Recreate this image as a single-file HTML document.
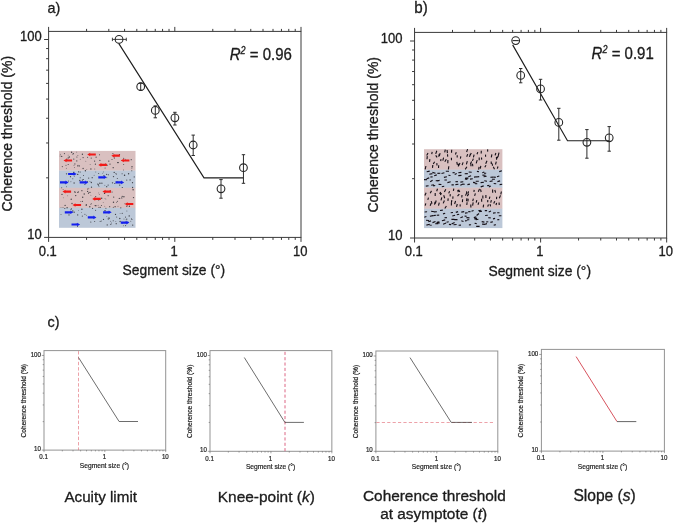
<!DOCTYPE html>
<html><head><meta charset="utf-8"><title>Figure</title>
<style>html,body{margin:0;padding:0;background:#fff}svg{display:block;will-change:transform}text{stroke:#1c1c1c;stroke-width:.32px;stroke-linejoin:round}text.sm{stroke:#222;stroke-width:.2px}</style>
</head><body>
<svg width="675" height="523" viewBox="0 0 675 523" font-family='"Liberation Sans", Arial, Helvetica, sans-serif'>
<rect width="675" height="523" fill="#fff"/>
<text transform="translate(47.60,13.10) scale(0.96,1)" font-size="15" text-anchor="start" fill="#1c1c1c" >a)</text>
<text transform="translate(414.30,13.10) scale(0.97,1)" font-size="15.6" text-anchor="start" fill="#1c1c1c" >b)</text>
<text transform="translate(47.50,327.20) scale(0.96,1)" font-size="15" text-anchor="start" fill="#1c1c1c" >c)</text>
<rect x="59" y="150.9" width="76.5" height="19.90" fill="#d9c0c0"/>
<rect x="59" y="170.6" width="76.5" height="17.40" fill="#bcc8d8"/>
<rect x="59" y="187.8" width="76.5" height="20.30" fill="#d9c0c0"/>
<rect x="59" y="207.9" width="76.5" height="19.90" fill="#bcc8d8"/>
<g fill="#2e2e34" opacity="0.88"><circle cx="77.7" cy="192.6" r="0.52"/><circle cx="105.0" cy="198.6" r="0.42"/><circle cx="61.0" cy="214.5" r="0.48"/><circle cx="77.5" cy="226.3" r="0.55"/><circle cx="122.3" cy="187.5" r="0.60"/><circle cx="71.2" cy="199.3" r="0.68"/><circle cx="99.0" cy="207.3" r="0.61"/><circle cx="64.8" cy="208.5" r="0.59"/><circle cx="82.4" cy="154.2" r="0.68"/><circle cx="95.2" cy="205.6" r="0.68"/><circle cx="113.2" cy="220.7" r="0.53"/><circle cx="119.7" cy="185.1" r="0.70"/><circle cx="125.5" cy="159.2" r="0.44"/><circle cx="76.2" cy="224.0" r="0.54"/><circle cx="106.7" cy="174.4" r="0.56"/><circle cx="88.7" cy="178.1" r="0.59"/><circle cx="103.5" cy="219.4" r="0.62"/><circle cx="129.2" cy="215.9" r="0.72"/><circle cx="110.0" cy="164.1" r="0.68"/><circle cx="131.9" cy="219.5" r="0.58"/><circle cx="113.2" cy="167.7" r="0.67"/><circle cx="102.7" cy="173.2" r="0.42"/><circle cx="123.6" cy="225.8" r="0.43"/><circle cx="119.6" cy="182.6" r="0.45"/><circle cx="81.9" cy="209.3" r="0.68"/><circle cx="63.3" cy="197.8" r="0.41"/><circle cx="113.5" cy="176.6" r="0.68"/><circle cx="133.1" cy="189.7" r="0.72"/><circle cx="83.1" cy="157.6" r="0.59"/><circle cx="62.3" cy="166.6" r="0.53"/><circle cx="105.5" cy="163.6" r="0.41"/><circle cx="124.6" cy="175.3" r="0.71"/><circle cx="126.8" cy="180.1" r="0.55"/><circle cx="98.7" cy="200.0" r="0.59"/><circle cx="101.7" cy="198.2" r="0.70"/><circle cx="97.8" cy="184.1" r="0.63"/><circle cx="77.7" cy="174.4" r="0.71"/><circle cx="98.8" cy="192.9" r="0.40"/><circle cx="90.9" cy="195.2" r="0.41"/><circle cx="105.9" cy="199.1" r="0.42"/><circle cx="106.7" cy="186.7" r="0.62"/><circle cx="86.3" cy="204.7" r="0.64"/><circle cx="61.7" cy="156.4" r="0.62"/><circle cx="131.8" cy="170.7" r="0.55"/><circle cx="104.2" cy="175.8" r="0.52"/><circle cx="83.3" cy="179.5" r="0.59"/><circle cx="82.4" cy="180.1" r="0.65"/><circle cx="62.0" cy="194.4" r="0.64"/><circle cx="83.1" cy="168.5" r="0.66"/><circle cx="77.8" cy="165.9" r="0.54"/><circle cx="112.0" cy="159.5" r="0.50"/><circle cx="84.9" cy="214.2" r="0.54"/><circle cx="123.7" cy="164.5" r="0.51"/><circle cx="108.4" cy="218.0" r="0.54"/><circle cx="76.8" cy="160.9" r="0.57"/><circle cx="74.2" cy="212.2" r="0.67"/><circle cx="73.7" cy="172.7" r="0.66"/><circle cx="107.8" cy="212.1" r="0.51"/><circle cx="69.7" cy="173.7" r="0.65"/><circle cx="80.2" cy="177.8" r="0.53"/><circle cx="91.3" cy="182.5" r="0.69"/><circle cx="71.6" cy="152.2" r="0.70"/><circle cx="125.6" cy="225.6" r="0.54"/><circle cx="130.8" cy="221.2" r="0.47"/><circle cx="115.5" cy="214.4" r="0.61"/><circle cx="98.7" cy="173.5" r="0.51"/><circle cx="76.9" cy="157.0" r="0.59"/><circle cx="81.4" cy="212.4" r="0.41"/><circle cx="127.3" cy="203.7" r="0.70"/><circle cx="126.8" cy="219.1" r="0.58"/><circle cx="61.0" cy="207.6" r="0.45"/><circle cx="82.3" cy="201.4" r="0.57"/><circle cx="90.8" cy="222.0" r="0.60"/><circle cx="85.4" cy="170.8" r="0.68"/><circle cx="95.6" cy="210.3" r="0.51"/><circle cx="74.7" cy="191.8" r="0.66"/><circle cx="72.8" cy="211.0" r="0.69"/><circle cx="120.1" cy="213.4" r="0.40"/><circle cx="106.8" cy="216.3" r="0.42"/><circle cx="80.2" cy="172.0" r="0.57"/><circle cx="91.5" cy="187.2" r="0.65"/><circle cx="60.1" cy="156.0" r="0.44"/><circle cx="69.3" cy="157.0" r="0.71"/><circle cx="123.7" cy="158.3" r="0.56"/><circle cx="83.5" cy="175.4" r="0.51"/><circle cx="108.2" cy="195.7" r="0.52"/><circle cx="74.2" cy="176.5" r="0.44"/><circle cx="101.4" cy="205.4" r="0.52"/><circle cx="66.0" cy="165.2" r="0.52"/><circle cx="105.0" cy="210.4" r="0.52"/><circle cx="119.7" cy="198.4" r="0.54"/><circle cx="87.7" cy="189.0" r="0.62"/><circle cx="91.3" cy="203.8" r="0.55"/><circle cx="78.3" cy="191.9" r="0.62"/><circle cx="65.3" cy="183.6" r="0.54"/><circle cx="125.5" cy="221.9" r="0.52"/><circle cx="126.9" cy="211.0" r="0.48"/><circle cx="94.6" cy="161.1" r="0.66"/><circle cx="109.3" cy="218.2" r="0.65"/><circle cx="109.7" cy="206.7" r="0.58"/><circle cx="67.7" cy="195.8" r="0.40"/><circle cx="70.7" cy="209.7" r="0.41"/><circle cx="66.8" cy="159.3" r="0.68"/><circle cx="73.3" cy="153.7" r="0.67"/><circle cx="69.0" cy="214.9" r="0.62"/><circle cx="122.3" cy="223.0" r="0.59"/><circle cx="119.5" cy="154.6" r="0.65"/><circle cx="98.1" cy="205.3" r="0.43"/><circle cx="115.8" cy="221.7" r="0.42"/><circle cx="84.2" cy="194.0" r="0.66"/><circle cx="78.0" cy="165.3" r="0.48"/><circle cx="105.9" cy="208.2" r="0.53"/><circle cx="87.4" cy="181.5" r="0.51"/><circle cx="91.2" cy="158.1" r="0.56"/><circle cx="132.5" cy="182.7" r="0.64"/><circle cx="72.0" cy="203.5" r="0.64"/><circle cx="110.2" cy="190.5" r="0.55"/><circle cx="107.9" cy="218.9" r="0.45"/><circle cx="67.1" cy="207.8" r="0.69"/><circle cx="98.5" cy="185.0" r="0.63"/><circle cx="73.9" cy="171.9" r="0.46"/><circle cx="103.6" cy="175.4" r="0.47"/><circle cx="111.5" cy="223.1" r="0.49"/><circle cx="112.5" cy="182.8" r="0.67"/><circle cx="103.6" cy="171.9" r="0.47"/><circle cx="61.7" cy="187.7" r="0.52"/><circle cx="72.8" cy="178.8" r="0.50"/><circle cx="117.7" cy="162.6" r="0.72"/><circle cx="95.7" cy="196.6" r="0.55"/><circle cx="122.2" cy="213.3" r="0.58"/><circle cx="95.9" cy="205.7" r="0.67"/><circle cx="89.8" cy="206.7" r="0.71"/><circle cx="94.8" cy="169.1" r="0.48"/><circle cx="113.5" cy="202.3" r="0.71"/><circle cx="123.6" cy="170.0" r="0.46"/><circle cx="79.3" cy="165.9" r="0.63"/><circle cx="124.0" cy="219.1" r="0.48"/><circle cx="124.4" cy="175.3" r="0.54"/><circle cx="114.3" cy="158.3" r="0.43"/><circle cx="122.1" cy="173.7" r="0.51"/><circle cx="103.2" cy="202.4" r="0.40"/><circle cx="84.9" cy="184.5" r="0.56"/><circle cx="75.7" cy="195.6" r="0.71"/><circle cx="89.1" cy="192.6" r="0.44"/><circle cx="80.5" cy="201.6" r="0.44"/><circle cx="126.1" cy="219.8" r="0.43"/><circle cx="130.1" cy="179.9" r="0.65"/><circle cx="116.4" cy="174.0" r="0.62"/><circle cx="108.7" cy="212.1" r="0.48"/><circle cx="116.2" cy="223.7" r="0.62"/><circle cx="99.9" cy="160.4" r="0.56"/><circle cx="86.2" cy="205.5" r="0.62"/><circle cx="102.2" cy="165.5" r="0.61"/><circle cx="107.0" cy="165.3" r="0.68"/><circle cx="108.8" cy="161.1" r="0.70"/><circle cx="70.5" cy="176.7" r="0.63"/><circle cx="104.5" cy="193.4" r="0.61"/><circle cx="94.1" cy="175.2" r="0.46"/><circle cx="65.1" cy="205.4" r="0.64"/><circle cx="100.5" cy="207.2" r="0.51"/><circle cx="79.8" cy="180.5" r="0.68"/><circle cx="63.1" cy="189.6" r="0.48"/><circle cx="117.3" cy="178.4" r="0.51"/><circle cx="90.0" cy="192.3" r="0.65"/><circle cx="86.3" cy="215.2" r="0.44"/><circle cx="80.2" cy="159.3" r="0.44"/><circle cx="118.0" cy="206.2" r="0.46"/><circle cx="74.1" cy="183.0" r="0.64"/><circle cx="120.8" cy="207.8" r="0.59"/><circle cx="70.9" cy="181.7" r="0.46"/><circle cx="99.3" cy="194.4" r="0.46"/><circle cx="78.6" cy="210.3" r="0.41"/><circle cx="119.8" cy="218.5" r="0.70"/><circle cx="88.5" cy="193.2" r="0.59"/><circle cx="107.2" cy="224.9" r="0.62"/><circle cx="82.3" cy="216.1" r="0.55"/><circle cx="104.8" cy="206.2" r="0.40"/><circle cx="117.4" cy="201.3" r="0.56"/><circle cx="99.0" cy="186.3" r="0.46"/><circle cx="99.5" cy="154.7" r="0.56"/><circle cx="108.1" cy="185.1" r="0.58"/><circle cx="131.4" cy="218.5" r="0.44"/><circle cx="119.0" cy="198.5" r="0.42"/><circle cx="86.8" cy="169.3" r="0.42"/><circle cx="100.1" cy="221.4" r="0.50"/><circle cx="124.9" cy="203.8" r="0.44"/><circle cx="123.9" cy="196.8" r="0.70"/><circle cx="113.3" cy="207.2" r="0.51"/><circle cx="120.1" cy="221.5" r="0.68"/><circle cx="92.6" cy="208.4" r="0.56"/><circle cx="68.1" cy="155.1" r="0.42"/><circle cx="74.9" cy="163.9" r="0.56"/><circle cx="112.1" cy="192.0" r="0.54"/><circle cx="108.4" cy="174.7" r="0.55"/><circle cx="116.4" cy="181.9" r="0.46"/><circle cx="127.0" cy="205.7" r="0.52"/><circle cx="87.6" cy="191.4" r="0.59"/><circle cx="76.7" cy="152.1" r="0.47"/><circle cx="118.3" cy="162.6" r="0.55"/><circle cx="74.5" cy="167.5" r="0.45"/><circle cx="90.1" cy="164.5" r="0.41"/><circle cx="68.2" cy="164.5" r="0.56"/><circle cx="64.4" cy="153.6" r="0.54"/><circle cx="90.4" cy="204.4" r="0.42"/><circle cx="90.0" cy="181.5" r="0.41"/><circle cx="131.9" cy="168.3" r="0.43"/><circle cx="95.4" cy="164.2" r="0.60"/><circle cx="85.8" cy="161.2" r="0.42"/><circle cx="114.2" cy="172.4" r="0.65"/><circle cx="94.7" cy="221.6" r="0.50"/><circle cx="78.6" cy="171.8" r="0.66"/><circle cx="106.9" cy="177.7" r="0.43"/><circle cx="110.8" cy="224.3" r="0.59"/><circle cx="60.3" cy="154.2" r="0.43"/><circle cx="72.7" cy="154.6" r="0.42"/><circle cx="108.7" cy="219.2" r="0.46"/><circle cx="132.6" cy="187.5" r="0.66"/><circle cx="128.3" cy="222.1" r="0.41"/><circle cx="82.7" cy="197.2" r="0.70"/><circle cx="66.5" cy="173.8" r="0.67"/><circle cx="68.5" cy="181.0" r="0.51"/><circle cx="110.7" cy="221.3" r="0.46"/><circle cx="115.1" cy="206.7" r="0.67"/><circle cx="101.2" cy="220.9" r="0.52"/><circle cx="90.9" cy="169.0" r="0.65"/><circle cx="95.8" cy="172.0" r="0.45"/><circle cx="113.7" cy="197.1" r="0.63"/><circle cx="88.8" cy="188.3" r="0.45"/><circle cx="112.9" cy="153.6" r="0.55"/><circle cx="116.5" cy="202.5" r="0.43"/><circle cx="77.7" cy="214.9" r="0.61"/><circle cx="125.5" cy="217.1" r="0.54"/><circle cx="126.8" cy="206.6" r="0.51"/><circle cx="87.6" cy="157.3" r="0.53"/><circle cx="131.2" cy="159.7" r="0.58"/><circle cx="68.2" cy="157.9" r="0.61"/><circle cx="77.9" cy="155.5" r="0.45"/><circle cx="108.0" cy="195.6" r="0.40"/><circle cx="77.1" cy="224.2" r="0.47"/><circle cx="101.9" cy="183.2" r="0.65"/><circle cx="105.0" cy="210.8" r="0.57"/><circle cx="74.0" cy="165.2" r="0.43"/><circle cx="121.5" cy="160.3" r="0.41"/><circle cx="132.0" cy="166.8" r="0.69"/><circle cx="66.4" cy="186.7" r="0.47"/><circle cx="121.8" cy="197.9" r="0.61"/><circle cx="116.7" cy="217.0" r="0.51"/><circle cx="104.9" cy="185.2" r="0.44"/><circle cx="122.2" cy="196.3" r="0.66"/><circle cx="75.3" cy="192.2" r="0.55"/><circle cx="114.2" cy="157.7" r="0.51"/><circle cx="96.1" cy="157.2" r="0.58"/><circle cx="114.8" cy="183.5" r="0.61"/><circle cx="105.1" cy="167.9" r="0.51"/><circle cx="134.2" cy="176.9" r="0.54"/><circle cx="66.3" cy="168.2" r="0.45"/><circle cx="129.4" cy="206.2" r="0.68"/><circle cx="133.5" cy="197.6" r="0.70"/><circle cx="99.9" cy="183.2" r="0.70"/><circle cx="127.3" cy="222.8" r="0.55"/><circle cx="117.6" cy="182.3" r="0.72"/><circle cx="128.6" cy="173.7" r="0.70"/><circle cx="73.8" cy="159.1" r="0.63"/><circle cx="81.9" cy="190.7" r="0.60"/><circle cx="63.0" cy="207.6" r="0.49"/><circle cx="92.2" cy="177.7" r="0.64"/><circle cx="115.6" cy="173.4" r="0.43"/><circle cx="82.3" cy="182.6" r="0.42"/><circle cx="71.4" cy="208.9" r="0.62"/><circle cx="132.7" cy="225.1" r="0.68"/></g>
<path d="M72.1 159.4h-5.6v-0.7l-3 1.8 3 1.8v-0.7h5.6z" fill="#f21a18"/>
<path d="M95.8 153.4h-5.6v-0.7l-3 1.8 3 1.8v-0.7h5.6z" fill="#f21a18"/>
<path d="M106.9 163.8h-5.6v-0.7l-3 1.8 3 1.8v-0.7h5.6z" fill="#f21a18"/>
<path d="M119.9 154.6h-5.6v-0.7l-3 1.8 3 1.8v-0.7h5.6z" fill="#f21a18"/>
<path d="M129.4 159.4h-5.6v-0.7l-3 1.8 3 1.8v-0.7h5.6z" fill="#f21a18"/>
<path d="M71.1 190.5h-5.6v-0.7l-3 1.8 3 1.8v-0.7h5.6z" fill="#f21a18"/>
<path d="M111.1 190.5h-5.6v-0.7l-3 1.8 3 1.8v-0.7h5.6z" fill="#f21a18"/>
<path d="M100.8 197.8h-5.6v-0.7l-3 1.8 3 1.8v-0.7h5.6z" fill="#f21a18"/>
<path d="M81.1 203.9h-5.6v-0.7l-3 1.8 3 1.8v-0.7h5.6z" fill="#f21a18"/>
<path d="M133.3 202.9h-5.6v-0.7l-3 1.8 3 1.8v-0.7h5.6z" fill="#f21a18"/>
<path d="M68.1 172.9h5.6v-0.7l3 1.8 -3 1.8v-0.7h-5.6z" fill="#1420ee"/>
<path d="M60.0 181.3h5.6v-0.7l3 1.8 -3 1.8v-0.7h-5.6z" fill="#1420ee"/>
<path d="M79.7 181.3h5.6v-0.7l3 1.8 -3 1.8v-0.7h-5.6z" fill="#1420ee"/>
<path d="M98.3 176.2h5.6v-0.7l3 1.8 -3 1.8v-0.7h-5.6z" fill="#1420ee"/>
<path d="M115.5 181.3h5.6v-0.7l3 1.8 -3 1.8v-0.7h-5.6z" fill="#1420ee"/>
<path d="M64.8 211.2h5.6v-0.7l3 1.8 -3 1.8v-0.7h-5.6z" fill="#1420ee"/>
<path d="M103.1 211.2h5.6v-0.7l3 1.8 -3 1.8v-0.7h-5.6z" fill="#1420ee"/>
<path d="M87.8 216.3h5.6v-0.7l3 1.8 -3 1.8v-0.7h-5.6z" fill="#1420ee"/>
<path d="M71.5 223.4h5.6v-0.7l3 1.8 -3 1.8v-0.7h-5.6z" fill="#1420ee"/>
<path d="M120.8 221.5h5.6v-0.7l3 1.8 -3 1.8v-0.7h-5.6z" fill="#1420ee"/>
<rect x="424" y="149.2" width="78.39999999999998" height="20.70" fill="#d9c0c0"/>
<rect x="424" y="169.7" width="78.39999999999998" height="18.20" fill="#bcc8d8"/>
<rect x="424" y="187.7" width="78.39999999999998" height="21.20" fill="#d9c0c0"/>
<rect x="424" y="208.7" width="78.39999999999998" height="19.40" fill="#bcc8d8"/>
<path d="M426.7 155.6L428.0 153.0M427.0 159.2L427.3 156.1M425.2 169.3L425.9 166.0M431.7 154.1L432.2 151.9M429.5 161.8L429.9 159.1M432.5 167.9L432.8 165.0M435.7 153.9L436.8 150.7M437.1 157.4L435.7 155.4M433.3 164.0L434.6 161.7M437.0 165.5L436.8 163.1M439.4 155.9L440.1 153.1M438.8 156.7L439.1 154.2M440.7 161.2L441.0 159.1M438.5 168.0L438.7 165.3M444.7 152.3L445.3 149.7M442.8 160.6L443.6 157.6M444.8 161.8L446.3 159.3M447.4 153.1L447.1 150.0M447.7 156.6L447.5 154.2M447.8 163.2L447.9 159.9M448.4 169.5L448.8 166.3M451.5 152.7L451.7 149.7M451.5 160.3L451.4 157.7M455.4 154.5L456.3 152.2M457.2 157.4L457.2 155.2M457.3 164.7L456.8 161.8M458.4 166.5L458.4 163.8M460.4 158.6L460.8 156.3M462.1 165.1L463.1 162.4M458.6 165.8L460.0 162.9M466.6 152.0L467.6 149.1M466.7 156.7L467.7 154.1M466.4 164.3L467.3 161.2M465.2 169.4L466.9 166.7M470.1 155.2L471.3 152.9M469.5 156.8L470.4 154.0M470.4 164.0L471.6 161.4M471.0 166.2L470.8 163.1M473.4 157.4L474.1 154.6M472.4 160.9L473.4 158.6M472.8 166.3L472.5 163.7M477.0 154.3L477.8 152.1M479.2 160.3L479.2 157.4M476.2 163.3L477.2 160.2M478.6 169.6L479.1 166.9M481.2 153.6L481.3 150.7M481.7 159.6L481.5 157.5M480.3 168.6L480.8 165.9M487.6 151.6L487.7 149.4M485.6 156.7L485.5 154.6M485.7 163.8L487.0 160.8M484.8 167.3L486.0 165.3M491.3 157.3L491.9 154.3M491.3 164.1L491.2 161.5M492.5 165.8L492.2 163.5M495.1 155.4L495.9 153.0M496.6 159.8L496.4 156.9M495.5 164.5L496.3 161.7M494.5 169.3L493.3 166.8M498.2 155.8L499.0 152.7M497.0 158.1L498.4 155.7M497.3 168.7L498.0 166.5M426.7 171.8L429.7 171.1M426.5 178.7L429.2 177.9M424.0 179.6L427.1 179.8M425.8 186.1L428.6 185.8M429.3 174.3L432.5 173.6M430.3 177.0L432.6 176.9M430.2 181.8L432.6 180.3M431.2 185.2L433.9 184.7M432.4 172.4L435.5 173.3M434.2 175.8L436.8 174.9M435.7 180.7L438.6 180.5M433.2 185.9L435.2 185.5M437.4 173.4L440.3 173.3M437.2 181.0L439.6 180.4M438.6 184.4L441.4 184.5M441.5 173.5L444.4 172.8M443.9 177.4L446.9 176.8M444.4 180.0L446.9 180.0M441.8 186.7L444.2 186.3M445.8 171.3L449.0 171.2M448.4 175.2L450.5 175.5M447.4 182.6L450.7 181.8M452.5 172.8L454.7 172.6M451.5 184.9L453.8 184.9M454.7 174.5L456.7 173.4M455.4 181.8L457.9 181.6M455.4 184.6L458.4 184.3M458.3 172.7L461.4 172.4M458.3 175.6L461.5 175.4M460.4 182.1L463.3 181.8M460.3 185.2L462.6 184.2M464.7 173.8L467.8 173.6M465.3 178.1L468.4 178.1M464.9 178.9L467.4 179.4M462.3 184.1L464.7 184.2M468.7 172.0L471.7 172.2M468.3 176.8L471.1 175.8M470.0 179.1L472.8 178.8M467.4 184.6L469.9 184.1M474.0 177.1L476.7 176.7M473.0 182.4L475.2 182.6M473.2 182.8L476.4 183.3M476.9 171.4L479.0 171.7M476.3 177.0L479.2 176.6M475.7 181.2L478.8 181.3M475.1 183.8L477.3 183.7M482.3 172.7L484.3 171.9M482.4 175.1L485.6 175.3M480.6 182.6L483.9 182.2M480.7 186.9L483.7 185.9M484.0 173.1L486.2 173.2M483.6 176.7L486.6 176.3M484.3 180.8L487.0 181.2M487.1 185.8L489.4 185.2M490.4 177.2L493.4 177.1M489.6 181.5L492.6 180.9M488.8 186.9L490.8 186.0M493.6 177.1L495.9 177.2M491.9 179.2L494.9 179.2M493.7 183.5L496.2 183.8M499.2 171.6L501.9 170.7M497.0 176.8L499.3 176.0M497.4 181.6L500.1 180.9M499.6 184.6L502.2 184.3M424.9 195.4L426.1 192.7M427.8 199.9L428.5 197.6M425.2 205.7L425.8 203.3M430.2 193.2L431.5 190.9M432.0 203.6L431.2 201.1M430.2 205.8L431.1 203.3M436.7 191.2L437.5 188.8M435.2 195.9L435.2 193.1M435.3 203.5L436.2 200.5M434.5 204.6L435.1 201.9M439.7 194.1L440.6 192.1M440.4 195.0L441.5 193.1M441.0 200.3L441.8 197.3M438.5 205.6L439.3 202.6M444.4 191.9L445.8 189.3M444.7 198.2L443.7 195.3M443.2 203.4L444.4 200.5M444.8 208.5L446.4 206.0M448.7 193.4L449.6 191.3M450.1 196.4L450.3 194.1M447.9 200.9L448.2 198.4M453.4 190.8L453.8 188.6M452.8 198.7L453.0 196.4M451.4 202.9L451.8 200.1M451.4 205.6L451.4 203.1M458.2 192.2L457.8 189.8M457.5 196.2L459.3 194.1M454.6 204.0L455.6 201.0M456.5 206.8L457.3 204.0M459.8 192.1L458.6 189.8M461.8 197.5L462.0 195.0M462.4 202.1L462.6 199.2M460.2 206.5L460.1 204.4M466.8 193.5L466.5 191.4M465.5 195.6L466.8 192.6M466.5 201.3L466.9 198.2M466.8 205.0L467.1 202.2M467.9 193.7L468.6 191.3M467.3 196.1L468.6 193.9M467.9 201.5L468.2 198.8M470.9 207.5L470.8 204.5M473.9 191.9L474.2 189.9M474.6 195.8L475.4 193.3M472.7 201.1L473.4 198.6M472.6 205.7L473.2 202.4M478.3 191.8L479.5 188.9M476.2 202.6L476.8 200.1M478.0 204.7L478.8 202.4M481.2 192.0L480.5 189.4M482.9 198.5L482.8 195.4M481.7 201.7L481.6 198.7M483.2 207.4L483.6 204.6M485.9 197.9L485.9 195.1M487.7 202.2L487.8 199.9M487.7 206.6L488.5 204.5M492.7 192.7L492.6 189.6M489.3 198.8L489.9 196.7M490.7 202.6L491.4 200.2M490.6 206.3L490.0 204.1M495.6 192.7L494.8 190.0M496.5 199.1L496.7 196.8M493.7 203.4L494.8 201.2M496.0 205.0L496.6 202.9M500.8 194.4L501.4 191.5M499.3 198.3L500.5 195.4M499.2 205.1L499.1 202.5M424.6 212.0L427.1 211.8M424.3 217.2L426.4 216.4M426.0 220.2L429.0 220.5M426.4 225.1L429.7 224.3M431.1 211.3L434.4 211.7M429.9 216.2L433.1 215.6M428.3 221.8L431.0 220.9M429.5 225.0L431.7 225.2M433.9 211.9L436.9 211.8M433.3 215.6L435.9 215.2M432.5 222.6L435.5 221.5M435.2 223.8L438.3 223.6M440.0 210.5L442.8 210.1M436.7 215.2L439.2 215.1M436.9 222.2L439.4 221.8M436.5 222.8L439.8 223.0M443.0 213.9L445.2 213.2M444.5 217.8L446.9 217.6M441.9 220.8L445.2 219.9M443.1 224.2L446.1 222.9M446.5 222.3L448.7 221.7M448.9 224.4L451.1 224.6M450.7 212.8L453.0 212.5M452.3 216.0L455.1 215.3M451.4 219.4L454.4 219.4M451.6 223.9L454.6 222.4M455.8 212.4L458.1 211.6M456.8 214.8L459.2 214.3M454.2 219.6L457.5 219.6M453.5 224.7L456.6 224.5M461.3 212.1L464.2 211.6M460.4 217.7L463.0 216.8M461.3 220.8L463.5 221.5M458.6 225.2L461.0 225.1M465.0 213.1L467.7 212.8M464.6 216.1L466.7 216.2M465.0 220.9L467.3 220.5M468.1 211.7L470.5 211.6M466.4 217.6L469.5 217.9M467.1 219.7L469.3 219.7M468.9 224.9L471.1 224.8M471.5 211.3L473.6 210.5M473.8 217.6L476.3 216.9M474.3 218.9L477.0 218.4M474.6 223.2L476.7 223.6M478.3 210.7L480.8 210.2M476.6 215.5L479.0 213.5M475.7 219.8L478.4 219.2M476.2 226.4L479.6 226.4M479.1 211.8L482.0 211.1M481.7 221.6L484.4 222.1M482.1 224.1L485.2 224.4M484.8 210.6L487.1 210.6M485.1 215.5L487.8 215.3M486.1 222.0L488.3 221.7M485.0 224.2L487.0 223.6M488.7 211.9L491.0 211.0M488.2 217.8L490.7 217.9M490.4 222.4L492.9 221.7M493.0 213.1L495.7 212.7M493.0 218.9L495.1 218.4M493.7 225.3L495.8 224.6M497.2 212.8L499.5 212.7M498.8 215.8L501.4 215.8M497.2 219.7L499.3 219.6" stroke="#150f17" stroke-width="1.12" stroke-linecap="butt" fill="none"/>
<rect x="48.60" y="31.40" width="252.40" height="206.00" fill="none" stroke="#3a3a3a" stroke-width="1"/>
<line x1="48.60" y1="31.40" x2="48.60" y2="26.90" stroke="#3a3a3a" stroke-width="1" />
<line x1="48.60" y1="237.40" x2="48.60" y2="241.90" stroke="#3a3a3a" stroke-width="1" />
<line x1="86.59" y1="31.40" x2="86.59" y2="28.90" stroke="#3a3a3a" stroke-width="1" />
<line x1="86.59" y1="237.40" x2="86.59" y2="239.90" stroke="#3a3a3a" stroke-width="1" />
<line x1="108.81" y1="31.40" x2="108.81" y2="28.90" stroke="#3a3a3a" stroke-width="1" />
<line x1="108.81" y1="237.40" x2="108.81" y2="239.90" stroke="#3a3a3a" stroke-width="1" />
<line x1="124.58" y1="31.40" x2="124.58" y2="28.90" stroke="#3a3a3a" stroke-width="1" />
<line x1="124.58" y1="237.40" x2="124.58" y2="239.90" stroke="#3a3a3a" stroke-width="1" />
<line x1="136.81" y1="31.40" x2="136.81" y2="28.90" stroke="#3a3a3a" stroke-width="1" />
<line x1="136.81" y1="237.40" x2="136.81" y2="239.90" stroke="#3a3a3a" stroke-width="1" />
<line x1="146.80" y1="31.40" x2="146.80" y2="28.90" stroke="#3a3a3a" stroke-width="1" />
<line x1="146.80" y1="237.40" x2="146.80" y2="239.90" stroke="#3a3a3a" stroke-width="1" />
<line x1="155.25" y1="31.40" x2="155.25" y2="28.90" stroke="#3a3a3a" stroke-width="1" />
<line x1="155.25" y1="237.40" x2="155.25" y2="239.90" stroke="#3a3a3a" stroke-width="1" />
<line x1="162.57" y1="31.40" x2="162.57" y2="28.90" stroke="#3a3a3a" stroke-width="1" />
<line x1="162.57" y1="237.40" x2="162.57" y2="239.90" stroke="#3a3a3a" stroke-width="1" />
<line x1="169.03" y1="31.40" x2="169.03" y2="28.90" stroke="#3a3a3a" stroke-width="1" />
<line x1="169.03" y1="237.40" x2="169.03" y2="239.90" stroke="#3a3a3a" stroke-width="1" />
<line x1="174.80" y1="31.40" x2="174.80" y2="26.90" stroke="#3a3a3a" stroke-width="1" />
<line x1="174.80" y1="237.40" x2="174.80" y2="241.90" stroke="#3a3a3a" stroke-width="1" />
<line x1="212.79" y1="31.40" x2="212.79" y2="28.90" stroke="#3a3a3a" stroke-width="1" />
<line x1="212.79" y1="237.40" x2="212.79" y2="239.90" stroke="#3a3a3a" stroke-width="1" />
<line x1="235.01" y1="31.40" x2="235.01" y2="28.90" stroke="#3a3a3a" stroke-width="1" />
<line x1="235.01" y1="237.40" x2="235.01" y2="239.90" stroke="#3a3a3a" stroke-width="1" />
<line x1="250.78" y1="31.40" x2="250.78" y2="28.90" stroke="#3a3a3a" stroke-width="1" />
<line x1="250.78" y1="237.40" x2="250.78" y2="239.90" stroke="#3a3a3a" stroke-width="1" />
<line x1="263.01" y1="31.40" x2="263.01" y2="28.90" stroke="#3a3a3a" stroke-width="1" />
<line x1="263.01" y1="237.40" x2="263.01" y2="239.90" stroke="#3a3a3a" stroke-width="1" />
<line x1="273.00" y1="31.40" x2="273.00" y2="28.90" stroke="#3a3a3a" stroke-width="1" />
<line x1="273.00" y1="237.40" x2="273.00" y2="239.90" stroke="#3a3a3a" stroke-width="1" />
<line x1="281.45" y1="31.40" x2="281.45" y2="28.90" stroke="#3a3a3a" stroke-width="1" />
<line x1="281.45" y1="237.40" x2="281.45" y2="239.90" stroke="#3a3a3a" stroke-width="1" />
<line x1="288.77" y1="31.40" x2="288.77" y2="28.90" stroke="#3a3a3a" stroke-width="1" />
<line x1="288.77" y1="237.40" x2="288.77" y2="239.90" stroke="#3a3a3a" stroke-width="1" />
<line x1="295.23" y1="31.40" x2="295.23" y2="28.90" stroke="#3a3a3a" stroke-width="1" />
<line x1="295.23" y1="237.40" x2="295.23" y2="239.90" stroke="#3a3a3a" stroke-width="1" />
<line x1="301.00" y1="31.40" x2="301.00" y2="26.90" stroke="#3a3a3a" stroke-width="1" />
<line x1="301.00" y1="237.40" x2="301.00" y2="241.90" stroke="#3a3a3a" stroke-width="1" />
<line x1="48.60" y1="237.40" x2="44.10" y2="237.40" stroke="#3a3a3a" stroke-width="1" />
<line x1="48.60" y1="177.83" x2="46.10" y2="177.83" stroke="#3a3a3a" stroke-width="1" />
<line x1="48.60" y1="142.98" x2="46.10" y2="142.98" stroke="#3a3a3a" stroke-width="1" />
<line x1="48.60" y1="118.25" x2="46.10" y2="118.25" stroke="#3a3a3a" stroke-width="1" />
<line x1="48.60" y1="99.07" x2="46.10" y2="99.07" stroke="#3a3a3a" stroke-width="1" />
<line x1="48.60" y1="83.40" x2="46.10" y2="83.40" stroke="#3a3a3a" stroke-width="1" />
<line x1="48.60" y1="70.16" x2="46.10" y2="70.16" stroke="#3a3a3a" stroke-width="1" />
<line x1="48.60" y1="58.68" x2="46.10" y2="58.68" stroke="#3a3a3a" stroke-width="1" />
<line x1="48.60" y1="48.56" x2="46.10" y2="48.56" stroke="#3a3a3a" stroke-width="1" />
<line x1="48.60" y1="39.50" x2="44.10" y2="39.50" stroke="#3a3a3a" stroke-width="1" />
<text transform="translate(41.80,41.40) scale(0.93,1)" font-size="14" text-anchor="end" fill="#1c1c1c" >100</text>
<text transform="translate(41.80,239.10) scale(0.93,1)" font-size="14" text-anchor="end" fill="#1c1c1c" >10</text>
<text transform="translate(47.80,255.60) scale(0.93,1)" font-size="14" text-anchor="middle" fill="#1c1c1c" >0.1</text>
<text transform="translate(174.00,255.60) scale(0.93,1)" font-size="14" text-anchor="middle" fill="#1c1c1c" >1</text>
<text transform="translate(300.20,255.60) scale(0.93,1)" font-size="14" text-anchor="middle" fill="#1c1c1c" >10</text>
<text transform="translate(173.90,275.10) scale(0.925,1)" font-size="15" text-anchor="middle" fill="#1c1c1c" >Segment size (°)</text>
<text transform="translate(12.20,133.70) rotate(-90)" font-size="14" text-anchor="middle" fill="#1c1c1c">Coherence threshold (%)</text>
<polyline points="118.70,43.40 204.00,177.80 243.50,177.80" fill="none" stroke="#1e1e1e" stroke-width="1.15"/>
<line x1="112.40" y1="39.40" x2="126.30" y2="39.40" stroke="#2c2c2c" stroke-width="0.9" />
<line x1="112.40" y1="37.70" x2="112.40" y2="41.10" stroke="#2c2c2c" stroke-width="0.9" />
<line x1="126.30" y1="37.70" x2="126.30" y2="41.10" stroke="#2c2c2c" stroke-width="0.9" />
<circle cx="119.05" cy="39.40" r="3.85" fill="none" stroke="#262626" stroke-width="1.1"/>
<line x1="140.70" y1="83.20" x2="140.70" y2="90.20" stroke="#2c2c2c" stroke-width="1.0" />
<line x1="139.00" y1="83.20" x2="142.40" y2="83.20" stroke="#2c2c2c" stroke-width="1" />
<line x1="139.00" y1="90.20" x2="142.40" y2="90.20" stroke="#2c2c2c" stroke-width="1" />
<circle cx="140.70" cy="86.70" r="3.85" fill="none" stroke="#262626" stroke-width="1.1"/>
<line x1="155.30" y1="105.90" x2="155.30" y2="117.80" stroke="#2c2c2c" stroke-width="1.0" />
<line x1="153.60" y1="105.90" x2="157.00" y2="105.90" stroke="#2c2c2c" stroke-width="1" />
<line x1="153.60" y1="117.80" x2="157.00" y2="117.80" stroke="#2c2c2c" stroke-width="1" />
<circle cx="155.30" cy="110.40" r="3.85" fill="none" stroke="#262626" stroke-width="1.1"/>
<line x1="174.90" y1="112.30" x2="174.90" y2="125.00" stroke="#2c2c2c" stroke-width="1.0" />
<line x1="173.20" y1="112.30" x2="176.60" y2="112.30" stroke="#2c2c2c" stroke-width="1" />
<line x1="173.20" y1="125.00" x2="176.60" y2="125.00" stroke="#2c2c2c" stroke-width="1" />
<circle cx="174.90" cy="117.80" r="3.85" fill="none" stroke="#262626" stroke-width="1.1"/>
<line x1="193.20" y1="135.10" x2="193.20" y2="155.50" stroke="#2c2c2c" stroke-width="1.0" />
<line x1="191.50" y1="135.10" x2="194.90" y2="135.10" stroke="#2c2c2c" stroke-width="1" />
<line x1="191.50" y1="155.50" x2="194.90" y2="155.50" stroke="#2c2c2c" stroke-width="1" />
<circle cx="193.20" cy="145.00" r="3.85" fill="none" stroke="#262626" stroke-width="1.1"/>
<line x1="221.00" y1="179.60" x2="221.00" y2="198.20" stroke="#2c2c2c" stroke-width="1.0" />
<line x1="219.30" y1="179.60" x2="222.70" y2="179.60" stroke="#2c2c2c" stroke-width="1" />
<line x1="219.30" y1="198.20" x2="222.70" y2="198.20" stroke="#2c2c2c" stroke-width="1" />
<circle cx="221.00" cy="188.80" r="3.85" fill="none" stroke="#262626" stroke-width="1.1"/>
<line x1="243.45" y1="154.70" x2="243.45" y2="183.30" stroke="#2c2c2c" stroke-width="1.0" />
<line x1="241.75" y1="154.70" x2="245.15" y2="154.70" stroke="#2c2c2c" stroke-width="1" />
<line x1="241.75" y1="183.30" x2="245.15" y2="183.30" stroke="#2c2c2c" stroke-width="1" />
<circle cx="243.45" cy="167.70" r="3.85" fill="none" stroke="#262626" stroke-width="1.1"/>
<text transform="translate(291.90,59.50) scale(0.91,1)" font-size="16.5" text-anchor="end" fill="#1c1c1c"><tspan font-style="italic">R</tspan><tspan font-size="10" dy="-6" font-style="italic">2</tspan><tspan dy="6"> = 0.96</tspan></text>
<rect x="414.56" y="32.40" width="252.10" height="205.60" fill="none" stroke="#3a3a3a" stroke-width="1"/>
<line x1="414.56" y1="32.40" x2="414.56" y2="27.90" stroke="#3a3a3a" stroke-width="1" />
<line x1="414.56" y1="238.00" x2="414.56" y2="242.50" stroke="#3a3a3a" stroke-width="1" />
<line x1="452.50" y1="32.40" x2="452.50" y2="29.90" stroke="#3a3a3a" stroke-width="1" />
<line x1="452.50" y1="238.00" x2="452.50" y2="240.50" stroke="#3a3a3a" stroke-width="1" />
<line x1="474.70" y1="32.40" x2="474.70" y2="29.90" stroke="#3a3a3a" stroke-width="1" />
<line x1="474.70" y1="238.00" x2="474.70" y2="240.50" stroke="#3a3a3a" stroke-width="1" />
<line x1="490.45" y1="32.40" x2="490.45" y2="29.90" stroke="#3a3a3a" stroke-width="1" />
<line x1="490.45" y1="238.00" x2="490.45" y2="240.50" stroke="#3a3a3a" stroke-width="1" />
<line x1="502.67" y1="32.40" x2="502.67" y2="29.90" stroke="#3a3a3a" stroke-width="1" />
<line x1="502.67" y1="238.00" x2="502.67" y2="240.50" stroke="#3a3a3a" stroke-width="1" />
<line x1="512.65" y1="32.40" x2="512.65" y2="29.90" stroke="#3a3a3a" stroke-width="1" />
<line x1="512.65" y1="238.00" x2="512.65" y2="240.50" stroke="#3a3a3a" stroke-width="1" />
<line x1="521.08" y1="32.40" x2="521.08" y2="29.90" stroke="#3a3a3a" stroke-width="1" />
<line x1="521.08" y1="238.00" x2="521.08" y2="240.50" stroke="#3a3a3a" stroke-width="1" />
<line x1="528.39" y1="32.40" x2="528.39" y2="29.90" stroke="#3a3a3a" stroke-width="1" />
<line x1="528.39" y1="238.00" x2="528.39" y2="240.50" stroke="#3a3a3a" stroke-width="1" />
<line x1="534.84" y1="32.40" x2="534.84" y2="29.90" stroke="#3a3a3a" stroke-width="1" />
<line x1="534.84" y1="238.00" x2="534.84" y2="240.50" stroke="#3a3a3a" stroke-width="1" />
<line x1="540.61" y1="32.40" x2="540.61" y2="27.90" stroke="#3a3a3a" stroke-width="1" />
<line x1="540.61" y1="238.00" x2="540.61" y2="242.50" stroke="#3a3a3a" stroke-width="1" />
<line x1="578.55" y1="32.40" x2="578.55" y2="29.90" stroke="#3a3a3a" stroke-width="1" />
<line x1="578.55" y1="238.00" x2="578.55" y2="240.50" stroke="#3a3a3a" stroke-width="1" />
<line x1="600.75" y1="32.40" x2="600.75" y2="29.90" stroke="#3a3a3a" stroke-width="1" />
<line x1="600.75" y1="238.00" x2="600.75" y2="240.50" stroke="#3a3a3a" stroke-width="1" />
<line x1="616.50" y1="32.40" x2="616.50" y2="29.90" stroke="#3a3a3a" stroke-width="1" />
<line x1="616.50" y1="238.00" x2="616.50" y2="240.50" stroke="#3a3a3a" stroke-width="1" />
<line x1="628.72" y1="32.40" x2="628.72" y2="29.90" stroke="#3a3a3a" stroke-width="1" />
<line x1="628.72" y1="238.00" x2="628.72" y2="240.50" stroke="#3a3a3a" stroke-width="1" />
<line x1="638.70" y1="32.40" x2="638.70" y2="29.90" stroke="#3a3a3a" stroke-width="1" />
<line x1="638.70" y1="238.00" x2="638.70" y2="240.50" stroke="#3a3a3a" stroke-width="1" />
<line x1="647.13" y1="32.40" x2="647.13" y2="29.90" stroke="#3a3a3a" stroke-width="1" />
<line x1="647.13" y1="238.00" x2="647.13" y2="240.50" stroke="#3a3a3a" stroke-width="1" />
<line x1="654.44" y1="32.40" x2="654.44" y2="29.90" stroke="#3a3a3a" stroke-width="1" />
<line x1="654.44" y1="238.00" x2="654.44" y2="240.50" stroke="#3a3a3a" stroke-width="1" />
<line x1="660.89" y1="32.40" x2="660.89" y2="29.90" stroke="#3a3a3a" stroke-width="1" />
<line x1="660.89" y1="238.00" x2="660.89" y2="240.50" stroke="#3a3a3a" stroke-width="1" />
<line x1="666.66" y1="32.40" x2="666.66" y2="27.90" stroke="#3a3a3a" stroke-width="1" />
<line x1="666.66" y1="238.00" x2="666.66" y2="242.50" stroke="#3a3a3a" stroke-width="1" />
<line x1="414.56" y1="238.00" x2="410.06" y2="238.00" stroke="#3a3a3a" stroke-width="1" />
<line x1="414.56" y1="178.70" x2="412.06" y2="178.70" stroke="#3a3a3a" stroke-width="1" />
<line x1="414.56" y1="144.01" x2="412.06" y2="144.01" stroke="#3a3a3a" stroke-width="1" />
<line x1="414.56" y1="119.39" x2="412.06" y2="119.39" stroke="#3a3a3a" stroke-width="1" />
<line x1="414.56" y1="100.30" x2="412.06" y2="100.30" stroke="#3a3a3a" stroke-width="1" />
<line x1="414.56" y1="84.70" x2="412.06" y2="84.70" stroke="#3a3a3a" stroke-width="1" />
<line x1="414.56" y1="71.52" x2="412.06" y2="71.52" stroke="#3a3a3a" stroke-width="1" />
<line x1="414.56" y1="60.09" x2="412.06" y2="60.09" stroke="#3a3a3a" stroke-width="1" />
<line x1="414.56" y1="50.01" x2="412.06" y2="50.01" stroke="#3a3a3a" stroke-width="1" />
<line x1="414.56" y1="41.00" x2="410.06" y2="41.00" stroke="#3a3a3a" stroke-width="1" />
<text transform="translate(402.56,42.90) scale(0.93,1)" font-size="14" text-anchor="end" fill="#1c1c1c" >100</text>
<text transform="translate(402.56,239.70) scale(0.93,1)" font-size="14" text-anchor="end" fill="#1c1c1c" >10</text>
<text transform="translate(413.76,256.20) scale(0.93,1)" font-size="14" text-anchor="middle" fill="#1c1c1c" >0.1</text>
<text transform="translate(539.81,256.20) scale(0.93,1)" font-size="14" text-anchor="middle" fill="#1c1c1c" >1</text>
<text transform="translate(665.86,256.20) scale(0.93,1)" font-size="14" text-anchor="middle" fill="#1c1c1c" >10</text>
<text transform="translate(539.71,275.70) scale(0.925,1)" font-size="15" text-anchor="middle" fill="#1c1c1c" >Segment size (°)</text>
<text transform="translate(377.80,134.80) rotate(-90)" font-size="14" text-anchor="middle" fill="#1c1c1c">Coherence threshold (%)</text>
<polyline points="512.65,44.90 567.50,140.70 609.20,140.70" fill="none" stroke="#1e1e1e" stroke-width="1.15"/>
<line x1="512.60" y1="40.60" x2="518.80" y2="40.60" stroke="#2c2c2c" stroke-width="1.1" />
<circle cx="515.70" cy="40.60" r="3.85" fill="none" stroke="#262626" stroke-width="1.1"/>
<line x1="520.70" y1="68.50" x2="520.70" y2="82.80" stroke="#2c2c2c" stroke-width="1.0" />
<line x1="519.00" y1="68.50" x2="522.40" y2="68.50" stroke="#2c2c2c" stroke-width="1" />
<line x1="519.00" y1="82.80" x2="522.40" y2="82.80" stroke="#2c2c2c" stroke-width="1" />
<circle cx="520.70" cy="75.40" r="3.85" fill="none" stroke="#262626" stroke-width="1.1"/>
<line x1="540.55" y1="79.30" x2="540.55" y2="100.00" stroke="#2c2c2c" stroke-width="1.0" />
<line x1="538.85" y1="79.30" x2="542.25" y2="79.30" stroke="#2c2c2c" stroke-width="1" />
<line x1="538.85" y1="100.00" x2="542.25" y2="100.00" stroke="#2c2c2c" stroke-width="1" />
<circle cx="540.55" cy="88.90" r="3.85" fill="none" stroke="#262626" stroke-width="1.1"/>
<line x1="558.80" y1="108.30" x2="558.80" y2="140.20" stroke="#2c2c2c" stroke-width="1.0" />
<line x1="557.10" y1="108.30" x2="560.50" y2="108.30" stroke="#2c2c2c" stroke-width="1" />
<line x1="557.10" y1="140.20" x2="560.50" y2="140.20" stroke="#2c2c2c" stroke-width="1" />
<circle cx="558.80" cy="122.40" r="3.85" fill="none" stroke="#262626" stroke-width="1.1"/>
<line x1="586.90" y1="129.60" x2="586.90" y2="158.20" stroke="#2c2c2c" stroke-width="1.0" />
<line x1="585.20" y1="129.60" x2="588.60" y2="129.60" stroke="#2c2c2c" stroke-width="1" />
<line x1="585.20" y1="158.20" x2="588.60" y2="158.20" stroke="#2c2c2c" stroke-width="1" />
<circle cx="586.90" cy="142.30" r="3.85" fill="none" stroke="#262626" stroke-width="1.1"/>
<line x1="609.20" y1="126.60" x2="609.20" y2="151.20" stroke="#2c2c2c" stroke-width="1.0" />
<line x1="607.50" y1="126.60" x2="610.90" y2="126.60" stroke="#2c2c2c" stroke-width="1" />
<line x1="607.50" y1="151.20" x2="610.90" y2="151.20" stroke="#2c2c2c" stroke-width="1" />
<circle cx="609.20" cy="137.80" r="3.85" fill="none" stroke="#262626" stroke-width="1.1"/>
<text transform="translate(653.80,59.30) scale(0.91,1)" font-size="16.5" text-anchor="end" fill="#1c1c1c"><tspan font-style="italic">R</tspan><tspan font-size="10" dy="-6" font-style="italic">2</tspan><tspan dy="6"> = 0.91</tspan></text>
<rect x="44.00" y="350.60" width="121.70" height="99.50" fill="none" stroke="#939393" stroke-width="1"/>
<line x1="44.00" y1="450.10" x2="44.00" y2="452.10" stroke="#666" stroke-width="0.6" />
<line x1="62.32" y1="450.10" x2="62.32" y2="451.40" stroke="#666" stroke-width="0.6" />
<line x1="73.03" y1="450.10" x2="73.03" y2="451.40" stroke="#666" stroke-width="0.6" />
<line x1="80.64" y1="450.10" x2="80.64" y2="451.40" stroke="#666" stroke-width="0.6" />
<line x1="86.53" y1="450.10" x2="86.53" y2="451.40" stroke="#666" stroke-width="0.6" />
<line x1="91.35" y1="450.10" x2="91.35" y2="451.40" stroke="#666" stroke-width="0.6" />
<line x1="95.42" y1="450.10" x2="95.42" y2="451.40" stroke="#666" stroke-width="0.6" />
<line x1="98.95" y1="450.10" x2="98.95" y2="451.40" stroke="#666" stroke-width="0.6" />
<line x1="102.07" y1="450.10" x2="102.07" y2="451.40" stroke="#666" stroke-width="0.6" />
<line x1="104.85" y1="450.10" x2="104.85" y2="452.10" stroke="#666" stroke-width="0.6" />
<line x1="123.17" y1="450.10" x2="123.17" y2="451.40" stroke="#666" stroke-width="0.6" />
<line x1="133.88" y1="450.10" x2="133.88" y2="451.40" stroke="#666" stroke-width="0.6" />
<line x1="141.49" y1="450.10" x2="141.49" y2="451.40" stroke="#666" stroke-width="0.6" />
<line x1="147.38" y1="450.10" x2="147.38" y2="451.40" stroke="#666" stroke-width="0.6" />
<line x1="152.20" y1="450.10" x2="152.20" y2="451.40" stroke="#666" stroke-width="0.6" />
<line x1="156.27" y1="450.10" x2="156.27" y2="451.40" stroke="#666" stroke-width="0.6" />
<line x1="159.80" y1="450.10" x2="159.80" y2="451.40" stroke="#666" stroke-width="0.6" />
<line x1="162.92" y1="450.10" x2="162.92" y2="451.40" stroke="#666" stroke-width="0.6" />
<line x1="165.70" y1="450.10" x2="165.70" y2="452.10" stroke="#666" stroke-width="0.6" />
<line x1="44.00" y1="450.10" x2="41.80" y2="450.10" stroke="#666" stroke-width="0.6" />
<line x1="44.00" y1="421.61" x2="42.70" y2="421.61" stroke="#666" stroke-width="0.6" />
<line x1="44.00" y1="404.94" x2="42.70" y2="404.94" stroke="#666" stroke-width="0.6" />
<line x1="44.00" y1="393.12" x2="42.70" y2="393.12" stroke="#666" stroke-width="0.6" />
<line x1="44.00" y1="383.94" x2="42.70" y2="383.94" stroke="#666" stroke-width="0.6" />
<line x1="44.00" y1="376.45" x2="42.70" y2="376.45" stroke="#666" stroke-width="0.6" />
<line x1="44.00" y1="370.11" x2="42.70" y2="370.11" stroke="#666" stroke-width="0.6" />
<line x1="44.00" y1="364.62" x2="42.70" y2="364.62" stroke="#666" stroke-width="0.6" />
<line x1="44.00" y1="359.78" x2="42.70" y2="359.78" stroke="#666" stroke-width="0.6" />
<line x1="44.00" y1="355.45" x2="41.80" y2="355.45" stroke="#666" stroke-width="0.6" />
<text transform="translate(40.90,356.75) scale(0.88,1)" font-size="7" text-anchor="end" fill="#222" class="sm">100</text>
<text transform="translate(40.90,451.10) scale(0.88,1)" font-size="7" text-anchor="end" fill="#222" class="sm">10</text>
<text transform="translate(43.60,459.40) scale(0.88,1)" font-size="7" text-anchor="middle" fill="#222" class="sm">0.1</text>
<text transform="translate(104.45,459.40) scale(0.88,1)" font-size="7" text-anchor="middle" fill="#222" class="sm">1</text>
<text transform="translate(165.30,459.40) scale(0.88,1)" font-size="7" text-anchor="middle" fill="#222" class="sm">10</text>
<text transform="translate(104.45,467.90) scale(0.94,1)" font-size="7.1" text-anchor="middle" fill="#222" class="sm">Segment size (°)</text>
<text transform="translate(25.60,400.75) rotate(-90)" font-size="6.62" class="sm" text-anchor="middle" fill="#222">Coherence threshold (%)</text>
<line x1="78.50" y1="351.10" x2="78.50" y2="450.10" stroke="#e0636e" stroke-width="0.6" stroke-dasharray="3.4 1.95"/>
<polyline points="78.50,357.50 119.10,421.50 138.00,421.50" fill="none" stroke="#3c3c3c" stroke-width="0.75"/>
<rect x="210.00" y="350.60" width="121.85" height="100.70" fill="none" stroke="#939393" stroke-width="1"/>
<line x1="210.00" y1="451.30" x2="210.00" y2="453.30" stroke="#666" stroke-width="0.6" />
<line x1="228.34" y1="451.30" x2="228.34" y2="452.60" stroke="#666" stroke-width="0.6" />
<line x1="239.07" y1="451.30" x2="239.07" y2="452.60" stroke="#666" stroke-width="0.6" />
<line x1="246.68" y1="451.30" x2="246.68" y2="452.60" stroke="#666" stroke-width="0.6" />
<line x1="252.58" y1="451.30" x2="252.58" y2="452.60" stroke="#666" stroke-width="0.6" />
<line x1="257.41" y1="451.30" x2="257.41" y2="452.60" stroke="#666" stroke-width="0.6" />
<line x1="261.49" y1="451.30" x2="261.49" y2="452.60" stroke="#666" stroke-width="0.6" />
<line x1="265.02" y1="451.30" x2="265.02" y2="452.60" stroke="#666" stroke-width="0.6" />
<line x1="268.14" y1="451.30" x2="268.14" y2="452.60" stroke="#666" stroke-width="0.6" />
<line x1="270.93" y1="451.30" x2="270.93" y2="453.30" stroke="#666" stroke-width="0.6" />
<line x1="289.27" y1="451.30" x2="289.27" y2="452.60" stroke="#666" stroke-width="0.6" />
<line x1="299.99" y1="451.30" x2="299.99" y2="452.60" stroke="#666" stroke-width="0.6" />
<line x1="307.61" y1="451.30" x2="307.61" y2="452.60" stroke="#666" stroke-width="0.6" />
<line x1="313.51" y1="451.30" x2="313.51" y2="452.60" stroke="#666" stroke-width="0.6" />
<line x1="318.33" y1="451.30" x2="318.33" y2="452.60" stroke="#666" stroke-width="0.6" />
<line x1="322.41" y1="451.30" x2="322.41" y2="452.60" stroke="#666" stroke-width="0.6" />
<line x1="325.95" y1="451.30" x2="325.95" y2="452.60" stroke="#666" stroke-width="0.6" />
<line x1="329.06" y1="451.30" x2="329.06" y2="452.60" stroke="#666" stroke-width="0.6" />
<line x1="331.85" y1="451.30" x2="331.85" y2="453.30" stroke="#666" stroke-width="0.6" />
<line x1="210.00" y1="451.30" x2="207.80" y2="451.30" stroke="#666" stroke-width="0.6" />
<line x1="210.00" y1="422.46" x2="208.70" y2="422.46" stroke="#666" stroke-width="0.6" />
<line x1="210.00" y1="405.59" x2="208.70" y2="405.59" stroke="#666" stroke-width="0.6" />
<line x1="210.00" y1="393.62" x2="208.70" y2="393.62" stroke="#666" stroke-width="0.6" />
<line x1="210.00" y1="384.34" x2="208.70" y2="384.34" stroke="#666" stroke-width="0.6" />
<line x1="210.00" y1="376.75" x2="208.70" y2="376.75" stroke="#666" stroke-width="0.6" />
<line x1="210.00" y1="370.34" x2="208.70" y2="370.34" stroke="#666" stroke-width="0.6" />
<line x1="210.00" y1="364.78" x2="208.70" y2="364.78" stroke="#666" stroke-width="0.6" />
<line x1="210.00" y1="359.88" x2="208.70" y2="359.88" stroke="#666" stroke-width="0.6" />
<line x1="210.00" y1="355.50" x2="207.80" y2="355.50" stroke="#666" stroke-width="0.6" />
<text transform="translate(206.90,356.80) scale(0.88,1)" font-size="7" text-anchor="end" fill="#222" class="sm">100</text>
<text transform="translate(206.90,452.30) scale(0.88,1)" font-size="7" text-anchor="end" fill="#222" class="sm">10</text>
<text transform="translate(209.60,460.60) scale(0.88,1)" font-size="7" text-anchor="middle" fill="#222" class="sm">0.1</text>
<text transform="translate(270.53,460.60) scale(0.88,1)" font-size="7" text-anchor="middle" fill="#222" class="sm">1</text>
<text transform="translate(331.45,460.60) scale(0.88,1)" font-size="7" text-anchor="middle" fill="#222" class="sm">10</text>
<text transform="translate(270.53,469.10) scale(0.94,1)" font-size="7.1" text-anchor="middle" fill="#222" class="sm">Segment size (°)</text>
<text transform="translate(191.60,401.35) rotate(-90)" font-size="6.62" class="sm" text-anchor="middle" fill="#222">Coherence threshold (%)</text>
<line x1="285.00" y1="351.80" x2="285.00" y2="451.30" stroke="#dc6684" stroke-width="1.0" stroke-dasharray="3.1 2.25"/>
<polyline points="244.30,357.50 284.90,422.40 303.90,422.40" fill="none" stroke="#3c3c3c" stroke-width="0.75"/>
<rect x="375.90" y="351.00" width="121.90" height="100.30" fill="none" stroke="#939393" stroke-width="1"/>
<line x1="375.90" y1="451.30" x2="375.90" y2="453.30" stroke="#666" stroke-width="0.6" />
<line x1="394.25" y1="451.30" x2="394.25" y2="452.60" stroke="#666" stroke-width="0.6" />
<line x1="404.98" y1="451.30" x2="404.98" y2="452.60" stroke="#666" stroke-width="0.6" />
<line x1="412.60" y1="451.30" x2="412.60" y2="452.60" stroke="#666" stroke-width="0.6" />
<line x1="418.50" y1="451.30" x2="418.50" y2="452.60" stroke="#666" stroke-width="0.6" />
<line x1="423.33" y1="451.30" x2="423.33" y2="452.60" stroke="#666" stroke-width="0.6" />
<line x1="427.41" y1="451.30" x2="427.41" y2="452.60" stroke="#666" stroke-width="0.6" />
<line x1="430.94" y1="451.30" x2="430.94" y2="452.60" stroke="#666" stroke-width="0.6" />
<line x1="434.06" y1="451.30" x2="434.06" y2="452.60" stroke="#666" stroke-width="0.6" />
<line x1="436.85" y1="451.30" x2="436.85" y2="453.30" stroke="#666" stroke-width="0.6" />
<line x1="455.20" y1="451.30" x2="455.20" y2="452.60" stroke="#666" stroke-width="0.6" />
<line x1="465.93" y1="451.30" x2="465.93" y2="452.60" stroke="#666" stroke-width="0.6" />
<line x1="473.55" y1="451.30" x2="473.55" y2="452.60" stroke="#666" stroke-width="0.6" />
<line x1="479.45" y1="451.30" x2="479.45" y2="452.60" stroke="#666" stroke-width="0.6" />
<line x1="484.28" y1="451.30" x2="484.28" y2="452.60" stroke="#666" stroke-width="0.6" />
<line x1="488.36" y1="451.30" x2="488.36" y2="452.60" stroke="#666" stroke-width="0.6" />
<line x1="491.89" y1="451.30" x2="491.89" y2="452.60" stroke="#666" stroke-width="0.6" />
<line x1="495.01" y1="451.30" x2="495.01" y2="452.60" stroke="#666" stroke-width="0.6" />
<line x1="497.80" y1="451.30" x2="497.80" y2="453.30" stroke="#666" stroke-width="0.6" />
<line x1="375.90" y1="451.30" x2="373.70" y2="451.30" stroke="#666" stroke-width="0.6" />
<line x1="375.90" y1="422.61" x2="374.60" y2="422.61" stroke="#666" stroke-width="0.6" />
<line x1="375.90" y1="405.83" x2="374.60" y2="405.83" stroke="#666" stroke-width="0.6" />
<line x1="375.90" y1="393.92" x2="374.60" y2="393.92" stroke="#666" stroke-width="0.6" />
<line x1="375.90" y1="384.69" x2="374.60" y2="384.69" stroke="#666" stroke-width="0.6" />
<line x1="375.90" y1="377.14" x2="374.60" y2="377.14" stroke="#666" stroke-width="0.6" />
<line x1="375.90" y1="370.76" x2="374.60" y2="370.76" stroke="#666" stroke-width="0.6" />
<line x1="375.90" y1="365.24" x2="374.60" y2="365.24" stroke="#666" stroke-width="0.6" />
<line x1="375.90" y1="360.36" x2="374.60" y2="360.36" stroke="#666" stroke-width="0.6" />
<line x1="375.90" y1="356.00" x2="373.70" y2="356.00" stroke="#666" stroke-width="0.6" />
<text transform="translate(372.80,357.30) scale(0.88,1)" font-size="7" text-anchor="end" fill="#222" class="sm">100</text>
<text transform="translate(372.80,452.30) scale(0.88,1)" font-size="7" text-anchor="end" fill="#222" class="sm">10</text>
<text transform="translate(375.50,460.60) scale(0.88,1)" font-size="7" text-anchor="middle" fill="#222" class="sm">0.1</text>
<text transform="translate(436.45,460.60) scale(0.88,1)" font-size="7" text-anchor="middle" fill="#222" class="sm">1</text>
<text transform="translate(497.40,460.60) scale(0.88,1)" font-size="7" text-anchor="middle" fill="#222" class="sm">10</text>
<text transform="translate(436.45,469.10) scale(0.94,1)" font-size="7.1" text-anchor="middle" fill="#222" class="sm">Segment size (°)</text>
<text transform="translate(357.50,401.55) rotate(-90)" font-size="6.62" class="sm" text-anchor="middle" fill="#222">Coherence threshold (%)</text>
<line x1="376.40" y1="422.50" x2="494.80" y2="422.50" stroke="#e0636e" stroke-width="0.6" stroke-dasharray="3.2 2.2"/>
<polyline points="410.00,357.60 451.20,422.40 472.00,422.40" fill="none" stroke="#3c3c3c" stroke-width="0.75"/>
<rect x="541.40" y="349.40" width="123.00" height="101.70" fill="none" stroke="#939393" stroke-width="1"/>
<line x1="541.40" y1="451.10" x2="541.40" y2="453.10" stroke="#666" stroke-width="0.6" />
<line x1="559.91" y1="451.10" x2="559.91" y2="452.40" stroke="#666" stroke-width="0.6" />
<line x1="570.74" y1="451.10" x2="570.74" y2="452.40" stroke="#666" stroke-width="0.6" />
<line x1="578.43" y1="451.10" x2="578.43" y2="452.40" stroke="#666" stroke-width="0.6" />
<line x1="584.39" y1="451.10" x2="584.39" y2="452.40" stroke="#666" stroke-width="0.6" />
<line x1="589.26" y1="451.10" x2="589.26" y2="452.40" stroke="#666" stroke-width="0.6" />
<line x1="593.37" y1="451.10" x2="593.37" y2="452.40" stroke="#666" stroke-width="0.6" />
<line x1="596.94" y1="451.10" x2="596.94" y2="452.40" stroke="#666" stroke-width="0.6" />
<line x1="600.09" y1="451.10" x2="600.09" y2="452.40" stroke="#666" stroke-width="0.6" />
<line x1="602.90" y1="451.10" x2="602.90" y2="453.10" stroke="#666" stroke-width="0.6" />
<line x1="621.41" y1="451.10" x2="621.41" y2="452.40" stroke="#666" stroke-width="0.6" />
<line x1="632.24" y1="451.10" x2="632.24" y2="452.40" stroke="#666" stroke-width="0.6" />
<line x1="639.93" y1="451.10" x2="639.93" y2="452.40" stroke="#666" stroke-width="0.6" />
<line x1="645.89" y1="451.10" x2="645.89" y2="452.40" stroke="#666" stroke-width="0.6" />
<line x1="650.76" y1="451.10" x2="650.76" y2="452.40" stroke="#666" stroke-width="0.6" />
<line x1="654.87" y1="451.10" x2="654.87" y2="452.40" stroke="#666" stroke-width="0.6" />
<line x1="658.44" y1="451.10" x2="658.44" y2="452.40" stroke="#666" stroke-width="0.6" />
<line x1="661.59" y1="451.10" x2="661.59" y2="452.40" stroke="#666" stroke-width="0.6" />
<line x1="664.40" y1="451.10" x2="664.40" y2="453.10" stroke="#666" stroke-width="0.6" />
<line x1="541.40" y1="451.10" x2="539.20" y2="451.10" stroke="#666" stroke-width="0.6" />
<line x1="541.40" y1="422.01" x2="540.10" y2="422.01" stroke="#666" stroke-width="0.6" />
<line x1="541.40" y1="404.99" x2="540.10" y2="404.99" stroke="#666" stroke-width="0.6" />
<line x1="541.40" y1="392.91" x2="540.10" y2="392.91" stroke="#666" stroke-width="0.6" />
<line x1="541.40" y1="383.54" x2="540.10" y2="383.54" stroke="#666" stroke-width="0.6" />
<line x1="541.40" y1="375.89" x2="540.10" y2="375.89" stroke="#666" stroke-width="0.6" />
<line x1="541.40" y1="369.42" x2="540.10" y2="369.42" stroke="#666" stroke-width="0.6" />
<line x1="541.40" y1="363.82" x2="540.10" y2="363.82" stroke="#666" stroke-width="0.6" />
<line x1="541.40" y1="358.87" x2="540.10" y2="358.87" stroke="#666" stroke-width="0.6" />
<line x1="541.40" y1="354.45" x2="539.20" y2="354.45" stroke="#666" stroke-width="0.6" />
<text transform="translate(538.30,355.75) scale(0.88,1)" font-size="7" text-anchor="end" fill="#222" class="sm">100</text>
<text transform="translate(538.30,452.10) scale(0.88,1)" font-size="7" text-anchor="end" fill="#222" class="sm">10</text>
<text transform="translate(541.00,460.40) scale(0.88,1)" font-size="7" text-anchor="middle" fill="#222" class="sm">0.1</text>
<text transform="translate(602.50,460.40) scale(0.88,1)" font-size="7" text-anchor="middle" fill="#222" class="sm">1</text>
<text transform="translate(664.00,460.40) scale(0.88,1)" font-size="7" text-anchor="middle" fill="#222" class="sm">10</text>
<text transform="translate(602.50,468.90) scale(0.94,1)" font-size="7.1" text-anchor="middle" fill="#222" class="sm">Segment size (°)</text>
<text transform="translate(523.00,400.65) rotate(-90)" font-size="6.62" class="sm" text-anchor="middle" fill="#222">Coherence threshold (%)</text>
<line x1="576.10" y1="356.60" x2="617.00" y2="421.60" stroke="#d2404c" stroke-width="0.9" />
<line x1="617.00" y1="421.60" x2="636.30" y2="421.60" stroke="#555" stroke-width="0.9" />
<text x="100.70" y="501.70" font-size="15.2" text-anchor="middle" fill="#1c1c1c" >Acuity limit</text>
<text x="266.3" y="502.0" font-size="15.45" text-anchor="middle" fill="#1c1c1c">Knee-point (<tspan font-style="italic">k</tspan>)</text>
<text x="434.40" y="500.70" font-size="15.4" text-anchor="middle" fill="#1c1c1c" >Coherence threshold</text>
<text x="433.6" y="518.7" font-size="15.4" text-anchor="middle" fill="#1c1c1c">at asymptote (<tspan font-style="italic">t</tspan>)</text>
<text x="604.6" y="500.7" font-size="15.6" text-anchor="middle" fill="#1c1c1c">Slope (<tspan font-style="italic">s</tspan>)</text>
</svg>
</body></html>
